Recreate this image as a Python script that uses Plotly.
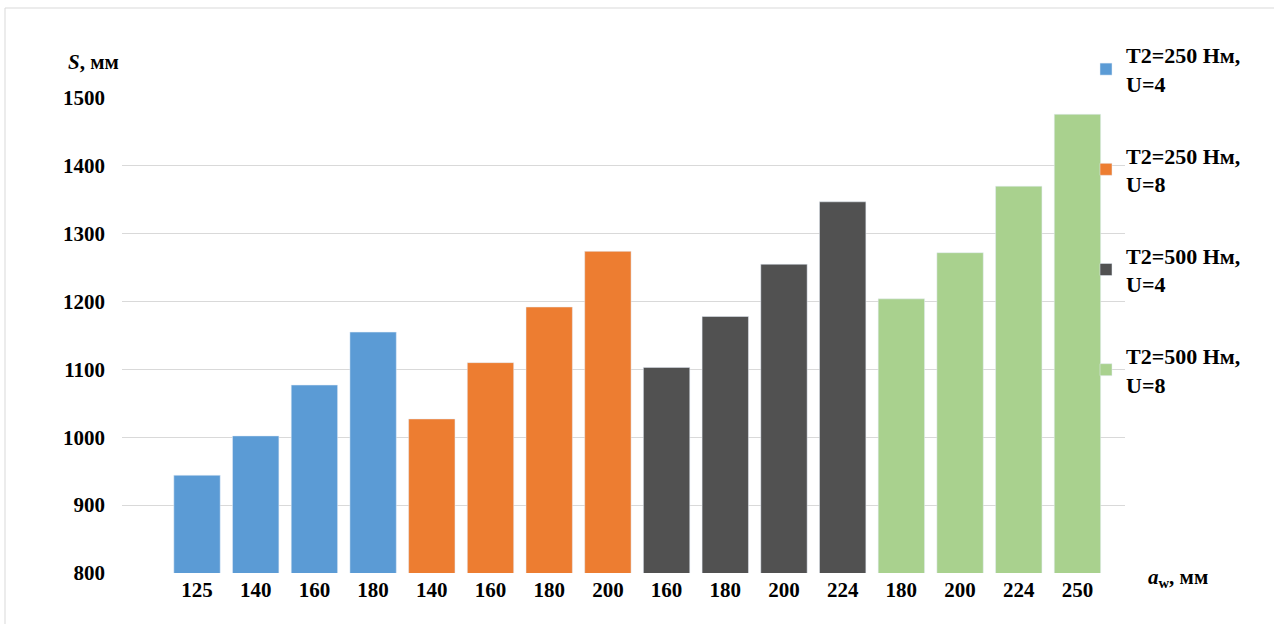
import plotly.graph_objects as go

# Centre distance a_w (mm) for each bar, grouped by load case
groups = ["T2=250 Нм,<br>U=4", "T2=250 Нм,<br>U=8", "T2=500 Нм,<br>U=4", "T2=500 Нм,<br>U=8"]
aw_250_u4 = ["125", "140", "160", "180"]
aw_250_u8 = ["140", "160", "180", "200"]
aw_500_u4 = ["160", "180", "200", "224"]
aw_500_u8 = ["180", "200", "224", "250"]

# Overall length S (mm)
s_250_u4 = [944, 1002, 1077, 1155]
s_250_u8 = [1027, 1110, 1192, 1274]
s_500_u4 = [1103, 1178, 1255, 1347]
s_500_u8 = [1204, 1272, 1370, 1476]

colors = ["#5B9BD5", "#ED7D31", "#515151", "#A9D18E"]

labels = [aw_250_u4, aw_250_u8, aw_500_u4, aw_500_u8]
values = [s_250_u4, s_250_u8, s_500_u4, s_500_u8]

FONT = "Liberation Serif"

fig = go.Figure()
tickvals, ticktext = [], []
pos = 0
for name, lab, val, col in zip(groups, labels, values, colors):
    xs = list(range(pos, pos + len(val)))
    fig.add_trace(go.Bar(
        x=xs, y=val, name=name, marker_color=col, width=0.79,
        legendgroup=name,
    ))
    tickvals += xs
    ticktext += lab
    pos += len(val)

# plot area in pixels
L, R, T, B = 122, 1125, 98, 573
W, H = 1274, 624

def px_x(p):
    return (p - L) / (R - L)

def px_y(p):
    return (B - p) / (B - T)

fig.update_layout(
    width=W, height=H,
    margin=dict(l=L, r=W - R, t=T, b=H - B),
    paper_bgcolor="white", plot_bgcolor="white",
    font=dict(family=FONT, size=21, color="black"),
    bargap=0.2,
    showlegend=True,
    legend=dict(
        x=px_x(1086), y=px_y(34), xanchor="left", yanchor="top",
        bgcolor="rgba(0,0,0,0)", tracegroupgap=40, maxheight=600,
        font=dict(family=FONT, size=22, color="black", weight="bold"),
    ),
    xaxis=dict(
        range=[-1.278, 15.81], tickvals=tickvals, ticktext=ticktext,
        showgrid=False, zeroline=False, showline=False, ticks="",
        ticklabelstandoff=2,
        tickfont=dict(family=FONT, size=21, color="black", weight="bold"),
    ),
    yaxis=dict(
        range=[800, 1500], dtick=100, tick0=800,
        showgrid=True, gridcolor="#D9D9D9", gridwidth=1,
        zeroline=False, showline=False, ticks="",
        ticklabelstandoff=16,
        tickfont=dict(family=FONT, size=21, color="black", weight="bold"),
    ),
)

# axis titles
fig.add_annotation(
    xref="paper", yref="paper", x=px_x(66), y=px_y(62),
    xanchor="left", yanchor="middle", showarrow=False,
    text="<b><i>S</i>, мм</b>",
    font=dict(family=FONT, size=21, color="black"),
)
fig.add_annotation(
    xref="paper", yref="paper", x=px_x(1146), y=px_y(578),
    xanchor="left", yanchor="middle", showarrow=False,
    text="<b><i>a</i><sub>w</sub>, мм</b>",
    font=dict(family=FONT, size=21, color="black"),
)

# chart frame
fig.add_shape(
    type="rect", xref="paper", yref="paper",
    x0=px_x(5), x1=px_x(1290), y0=px_y(640), y1=px_y(8),
    line=dict(color="#D9D9D9", width=1), fillcolor="rgba(0,0,0,0)",
    layer="below",
)

fig.write_html("out.html")
